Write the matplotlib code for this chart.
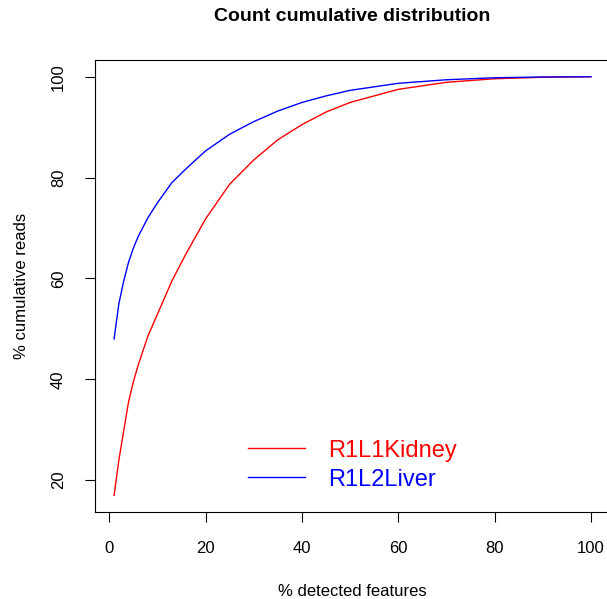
import matplotlib
matplotlib.use("Agg")
import matplotlib.pyplot as plt

plt.rcParams["font.family"] = ["Liberation Sans", "DejaVu Sans"]

x = [1, 2, 3, 4, 5, 6, 8, 10, 13, 16, 20, 25, 30, 35, 40, 45, 50, 60, 70, 80, 90, 100]
kidney = [17, 24, 29.8, 35.5, 39.5, 42.8, 48.5, 52.9, 59.5, 65, 71.8, 78.7, 83.5, 87.5,
          90.5, 93, 94.9, 97.5, 98.9, 99.6, 99.9, 100]
liver = [48, 55, 59.5, 63.2, 66, 68.3, 72, 75, 79, 81.8, 85.3, 88.6, 91.1, 93.2,
         94.9, 96.2, 97.3, 98.7, 99.4, 99.8, 99.95, 100]
labels = ["R1L1Kidney", "R1L2Liver"]
colors = ["red", "blue"]

fig = plt.figure(figsize=(6.07, 5.99), dpi=100)
ax = fig.add_axes([95 / 607, 1 - 512 / 599, 515 / 607, 452 / 599])
for ys, lab, c in zip([kidney, liver], labels, colors):
    ax.plot(x, ys, color=c, linewidth=1, label=lab)
ax.set_xlim(-2.96, 103.96)
ax.set_ylim(13.68, 103.32)
ax.set_xticks([0, 20, 40, 60, 80, 100])
ax.set_yticks([20, 40, 60, 80, 100])
ax.set_yticklabels(["20", "40", "60", "80", "100"], rotation=90, va="center")
ax.tick_params(labelsize=12, length=7, pad=14)
ax.set_xlabel("% detected features", fontsize=12, labelpad=20)
ax.set_ylabel("% cumulative reads", fontsize=12, labelpad=16)
ax.set_title("Count cumulative distribution", fontsize=14, fontweight="bold", pad=28)
leg = ax.legend(loc="lower center", bbox_to_anchor=(0.5, 0.0), frameon=False,
                fontsize=17, handlelength=2.4, handletextpad=1.0, labelspacing=0.3)
for t, c in zip(leg.get_texts(), colors):
    t.set_color(c)
fig.savefig("out.png")
